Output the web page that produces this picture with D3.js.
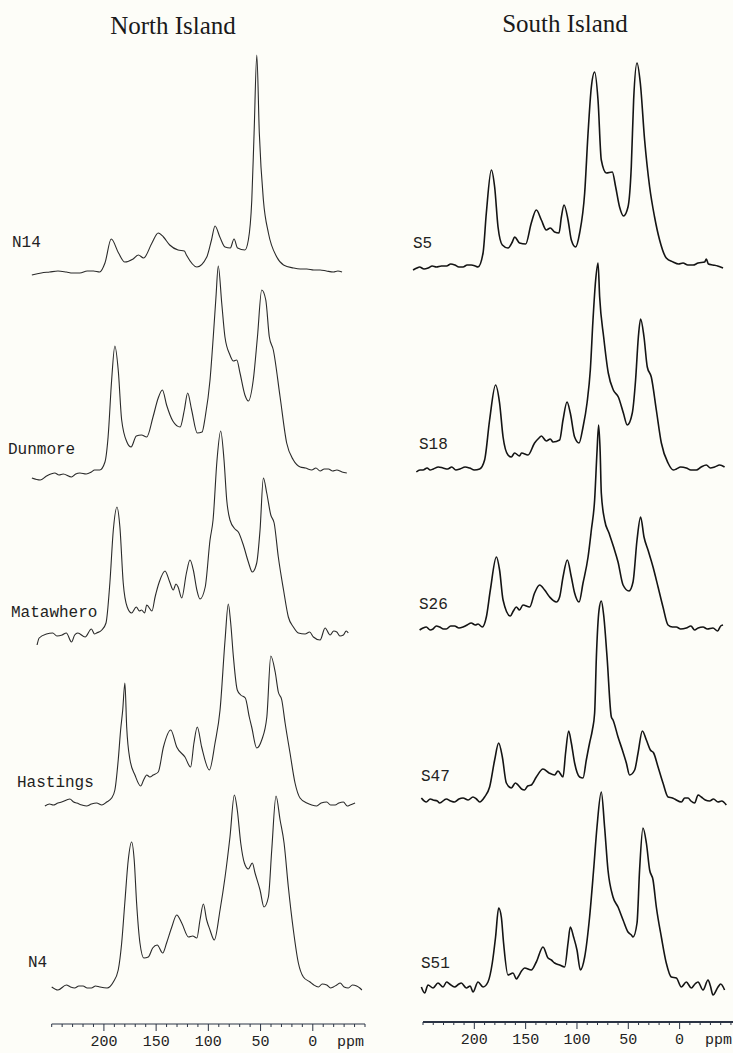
<!DOCTYPE html>
<html>
<head>
<meta charset="utf-8">
<script src="https://cdn.jsdelivr.net/npm/d3@7"></script>
<style>
body { margin: 0; background: #fdfdf8; }
svg { display: block; }
</style>
</head>
<body>
<div id="chart"></div>
<script>
// 13C NMR spectra, [ppm, intensity]
var northNames = ["N14", "Dunmore", "Matawhero", "Hastings", "N4"];
var southNames = ["S5", "S18", "S26", "S47", "S51"];
var tickValues = [200, 150, 100, 50, 0];

var N14 = [[269,-3],[260,-1],[252,0],[244,1],[236,0],[230,-1],[223,-1],[216,1],[210,1],[204,0],[199,9],[193,33],[186,19],[180,10],[172,13],[167,17],[162,14],[154,29],[148,39],[143,35],[137,27],[129,22],[123,21],[121,17],[111,5],[101.5,15],[97,32],[93.6,46],[89,35],[84,25],[79,24],[75.4,33],[72,24],[65,22],[61.7,32],[58.4,72],[56.2,139],[53.6,217],[51.2,139],[47.3,72],[42.5,39],[34.5,15],[28,7],[18.6,4],[12,3],[5.7,3],[-1,2],[-7,2],[-13,1],[-19.7,0],[-24,1],[-28,0]];

var dunmore = [[269,-7],[261,-9],[255,-5],[247,-2],[243,-4],[239,-3],[231,-6],[227,-3],[223,-2],[217,-3],[212,-1],[209,1],[204,1],[199,9],[196,34],[192.6,91],[189.5,125],[186.3,101],[183,51],[178,29],[174,24],[169,35],[164,36],[159,34],[153,54],[148,73],[144,81],[140,66],[134,50],[127,44],[123,61],[119.8,78],[116,61],[110.6,38],[106,39],[103,54],[98.4,91],[95.3,134],[92.7,174],[90.5,205],[87.2,168],[84.1,134],[79.3,116],[76,110],[72.8,111],[69.7,98],[65,76],[61.7,70],[57,91],[53,134],[48.9,181],[45,171],[41.6,134],[37.8,121],[31.3,74],[25,28],[18.6,11],[12,4],[7,3],[1,1],[-3,3],[-7,0],[-11,2],[-15,2],[-19,0],[-23,1],[-28,-1],[-32.6,-2]];

var matawhero = [[264,-12],[262,-5],[255,-1],[249,0],[245,-3],[240,-2],[236,0],[231,-9],[228,-2],[225,0],[218,-4],[212,4],[209,-1],[207,0],[202,3],[198,10],[194.3,50],[191,103],[187.5,126],[184.7,106],[181.5,50],[177.7,26],[173.5,20],[169,26],[166,22],[164,23],[161,20],[159,28],[154,22],[151,36],[147,51],[141.5,62],[137,51],[133.6,43],[131,49],[129,46],[125.5,35],[121,60],[117.6,73],[114.4,63],[111,43],[108,34],[103,46],[98.4,93],[95.5,113],[91.7,173],[88.2,202],[85,173],[82.4,133],[79.3,113],[74.5,104],[71.3,101],[66.5,88],[61.7,71],[57.9,61],[53.7,70],[50.5,103],[47.3,155],[44.1,140],[40.2,118],[37,110],[33,76],[28,43],[23.4,16],[18.6,6],[13.8,0],[7.4,-1],[3,1],[-0.6,-4],[-7,-7],[-11.8,5],[-16.6,-2],[-20,2],[-23,1],[-26,-3],[-29.3,-2],[-32,2],[-34,0]];

var hastings = [[256.5,-2],[252,0],[248.6,-1],[244,1],[240.5,2],[232.6,5],[229,2],[226,1],[221,-1],[216.6,-2],[212,0],[207,1],[202,-1],[197.4,2],[192.6,6],[189.5,14],[186.3,44],[184,74],[182,94],[179.9,121],[178.2,77],[175,44],[170.3,29],[164.8,18],[162,24],[159,29],[156,27],[152.8,29],[148,32],[143,57],[136,74],[130.3,57],[122.4,47],[117,37],[113.8,61],[110.6,77],[106.4,57],[99,34],[93.6,61],[88.8,94],[84,164],[80.9,200],[78.6,181],[76,147],[72.3,114],[69,109],[64.6,106],[60.8,87],[58.5,77],[53.7,56],[48.9,64],[44,87],[40.2,148],[36,132],[33,112],[29.7,104],[26.5,81],[21.8,51],[17,21],[12.2,6],[5.7,1],[1,-1],[-3.8,-2],[-8,1],[-13.4,2],[-17,-1],[-21.4,-1],[-25,1],[-29.3,2],[-33,-2],[-35.7,-1],[-40.5,1]];

var N4 = [[250,0],[244,-3],[236,2],[232,0],[228,-1],[224,1],[220,1],[216,-1],[212,-1],[208,1],[204,0],[197,-1],[191,5],[186.3,17],[183,44],[180,84],[176.7,127],[173.5,145],[171,127],[168.7,84],[165.5,44],[161.7,29],[157.5,30],[153.3,39],[149,42],[143.7,34],[140,44],[135,60],[130.3,72],[125.5,64],[119,50],[115,51],[111,49],[108,67],[104.8,83],[101.6,67],[98.4,57],[94.3,47],[88.8,77],[84,110],[79.3,150],[75.1,192],[72.3,177],[69,144],[65.5,124],[61.7,118],[57.9,124],[55.3,114],[50.5,97],[46.7,80],[42.5,90],[39.3,137],[35.2,191],[31.3,167],[27.5,144],[23.4,100],[18.6,57],[13.8,24],[9,10],[2.6,5],[-1,2],[-5.4,0],[-9,3],[-13.4,2],[-17,-1],[-19.7,0],[-23,2],[-26.2,4],[-30,0],[-34,-1],[-38,2],[-42,1],[-45,-1],[-47,-3]];

var S5 = [[259.7,-4],[256,-2],[253.3,-1],[249,-3],[245,-2],[241,0],[237,-1],[232,0],[227,0],[223,2],[219,1],[215,-1],[211,-1],[207,1],[203,1],[199,0],[196.4,-1],[191.5,13],[188.3,53],[183.4,96],[180.2,79],[176.9,39],[172.7,21],[167.2,18],[163,24],[160.7,29],[155.9,23],[150,22],[144.5,43],[139.6,56],[134.7,46],[129.9,36],[126,38],[121.8,34],[117.5,33],[115.2,49],[112.6,61],[108.7,46],[105.5,26],[101.3,19],[97.4,33],[92.5,73],[89.2,133],[86,179],[82.8,194],[79.5,166],[76.3,106],[71.4,93],[65.6,94],[62.3,79],[58.5,59],[54.6,50],[50.3,59],[47.1,99],[44.8,166],[41.5,203],[38.3,183],[34.1,126],[29.2,79],[24.4,49],[19.5,26],[13,8],[6.4,4],[1,2],[-3.3,3],[-8,1],[-13.1,1],[-18,3],[-24.4,4],[-26,7],[-28,2],[-32.5,1],[-37,0],[-42.3,-2]];

var S18 = [[256.5,-3],[253,-1],[250,-1],[246,1],[243,-1],[240,0],[235,2],[230.5,1],[226,0],[222,2],[218,-1],[214,0],[209,2],[204.6,1],[200,-1],[194.8,0],[190,9],[185.1,49],[179.3,84],[175.4,66],[172,32],[167.2,14],[164,12],[160.7,16],[156,13],[154,16],[147.7,14],[141.3,26],[137,31],[134.7,33],[129.9,28],[126,30],[123.3,27],[116.9,29],[113.6,49],[109.7,67],[106.5,56],[102.3,32],[98,26],[94.1,42],[90.2,66],[87,99],[84.4,149],[81.8,189],[79.5,206],[77.9,172],[74,132],[69.5,96],[64.6,79],[59.7,72],[54.8,56],[51,44],[46.1,56],[42.9,89],[40.2,132],[38,150],[34.7,132],[31.5,102],[27.6,92],[22.7,59],[17.8,26],[11.3,6],[6,-1],[3.2,0],[-1,2],[-6.5,1],[-11,-1],[-16.3,-1],[-21,2],[-26,4],[-30,1],[-34.1,2],[-39,4],[-43.8,2]];

var S26 = [[253.3,-3],[250,-1],[246.8,0],[243,-3],[240.2,-2],[237,1],[233.8,0],[230,-2],[227.3,-2],[223,1],[219.2,1],[215,-1],[211,0],[207,2],[203,4],[199,2],[196.4,3],[192.2,0],[188.3,10],[184.4,37],[178.5,70],[175.4,57],[172,27],[164.9,11],[162,16],[159.1,20],[156,17],[152.6,22],[146.1,20],[141.3,34],[136.4,42],[131.5,37],[126.6,30],[120.1,25],[116.9,30],[113.6,50],[109.4,67],[105.5,50],[102.3,34],[98,25],[94.1,44],[89.2,70],[86,97],[82.8,127],[80.5,175],[78.9,202],[77.4,175],[76.3,134],[73.1,107],[68.8,94],[64.3,80],[60,65],[55.1,42],[49.3,36],[45.4,45],[41.5,87],[38,110],[34.7,90],[30.8,77],[25.9,60],[21,40],[16.2,20],[11.3,2],[7,0],[3.2,0],[-1,-2],[-6.5,-1],[-11,1],[-14.6,-3],[-18,-1],[-22.8,0],[-27,-2],[-32.5,-1],[-37,-4],[-40,1],[-42.3,2]];

var S47 = [[251.6,2],[246.8,-2],[243,1],[240.2,0],[236,-1],[233.8,-3],[227.3,1],[223,-1],[219.2,-2],[215,1],[211,2],[206,0],[201.3,3],[198,1],[194.8,-2],[190,3],[185.1,13],[180.2,40],[176.3,57],[172.7,43],[168.8,17],[164,12],[160,17],[157.4,15],[154,11],[151,10],[148,14],[144.5,15],[139.6,23],[133.1,31],[127.2,27],[121.8,25],[118.5,29],[113.6,23],[111.1,47],[108.1,69],[105.5,57],[102.3,37],[97.4,23],[94.1,22],[90.9,40],[87.7,57],[85,70],[82.8,87],[81.1,143],[78.5,190],[76.3,199],[74,185],[70.7,143],[66.5,83],[64.9,80],[60,63],[55.8,50],[51.9,37],[48.7,25],[43.8,30],[40.5,47],[36.3,69],[32.4,60],[28.5,50],[25.3,47],[21,33],[16.2,17],[11.3,3],[7,2],[4.9,1],[-1.7,-2],[-5,2],[-8.2,2],[-11,-1],[-14.6,-3],[-18,5],[-21.1,3],[-25,0],[-29.2,-1],[-33,1],[-37.4,-2],[-41,-1],[-45.5,-5]];

var S51 = [[251.6,-2],[248.4,-8],[245.1,0],[240.2,-3],[235.4,2],[230.5,-2],[227,3],[224.1,1],[219.2,-2],[215,1],[212.7,2],[207.8,-3],[204,-1],[201.3,-7],[196.4,3],[191.5,-2],[186.7,3],[182.5,22],[179.3,48],[176.3,77],[173.7,68],[171.5,42],[167.2,10],[162.3,12],[159,6],[157.4,8],[154,14],[151,17],[144.5,15],[139.6,23],[133.1,38],[128.2,27],[125,25],[121.8,22],[116.9,20],[112,18],[108.7,42],[106.5,58],[103.3,48],[100,35],[96.7,15],[92.5,28],[87.7,68],[83.8,115],[80.5,158],[76.3,193],[73.1,158],[69.8,115],[64.9,88],[60,78],[55.1,65],[50.3,53],[47,50],[45.4,48],[41.5,62],[39,115],[35.7,157],[32.4,142],[29.2,115],[25.9,105],[22.7,78],[17.8,48],[13,22],[8.1,8],[3.2,7],[-1.7,-2],[-6.5,3],[-11.4,-3],[-15,1],[-17.9,3],[-22.8,-5],[-27.7,5],[-30,-1],[-32.5,-10],[-37.4,-2],[-40,1],[-43.8,-5]];

var northSpectra = [N14, dunmore, matawhero, hastings, N4];
var southSpectra = [S5, S18, S26, S47, S51];

var W = 733, H = 1053;

var svg = d3.select("#chart").append("svg")
    .attr("width", W)
    .attr("height", H);

svg.append("rect")
    .attr("width", W)
    .attr("height", H)
    .attr("fill", "#fdfdf8");

// layout of the two panels
var panels = [
    {
        title: "North Island", titleX: 173, titleY: 34,
        names: northNames, spectra: northSpectra,
        baselines: [272, 471, 633, 804, 987],
        labelX: [12, 8, 11, 17, 28],
        labelY: [247, 454, 617, 787, 967],
        range: [51.7, 365], domain: [250, -50],
        axisY: 1024, axisWidth: 1.2, lineWidth: 1.1, lineColor: "#2a2a2a"
    },
    {
        title: "South Island", titleX: 565, titleY: 32,
        names: southNames, spectra: southSpectra,
        baselines: [266, 469, 627, 800, 985],
        labelX: [413, 419, 419, 421, 421],
        labelY: [248, 449, 609, 781, 968],
        range: [423, 733], domain: [250, -52],
        axisY: 1022, axisWidth: 2, lineWidth: 1.6, lineColor: "#141414"
    }
];

panels.forEach(function(p) {
    var x = d3.scaleLinear()
        .domain(p.domain)
        .range(p.range);

    // intensity units are drawn 1:1 in pixels above each baseline
    var y = d3.scaleLinear()
        .domain([0, 100])
        .range([0, -100]);

    var line = d3.line()
        .x(function(d) { return x(d[0]); })
        .y(function(d) { return y(d[1]); })
        .curve(d3.curveMonotoneX);

    svg.append("text")
        .attr("x", p.titleX)
        .attr("y", p.titleY)
        .attr("text-anchor", "middle")
        .style("font-family", "'Liberation Serif', 'Times New Roman', serif")
        .style("font-size", "25px")
        .style("fill", "#1a1a1a")
        .text(p.title);

    p.spectra.forEach(function(s, i) {
        var g = svg.append("g")
            .attr("transform", "translate(0," + p.baselines[i] + ")");
        g.append("path")
            .datum(s)
            .attr("d", line)
            .attr("fill", "none")
            .attr("stroke", p.lineColor)
            .attr("stroke-width", p.lineWidth)
            .attr("stroke-linejoin", "round");

        svg.append("text")
            .attr("x", p.labelX[i])
            .attr("y", p.labelY[i])
            .style("font-family", "'Liberation Mono', 'Courier New', monospace")
            .style("font-size", "16px")
            .style("fill", "#222")
            .text(p.names[i]);
    });

    // ppm axis with 10 ppm minor ticks
    var ax = svg.append("g")
        .attr("transform", "translate(0," + p.axisY + ")");

    ax.append("line")
        .attr("x1", p.range[0])
        .attr("x2", p.range[1])
        .attr("stroke", "#2b3444")
        .attr("stroke-width", p.axisWidth);

    var minor = d3.range(250, -51, -10);
    ax.selectAll("line.tick")
        .data(minor)
        .enter().append("line")
        .attr("class", "tick")
        .attr("x1", function(d) { return x(d); })
        .attr("x2", function(d) { return x(d); })
        .attr("y1", 0)
        .attr("y2", function(d) { return tickValues.indexOf(d) >= 0 ? 7 : 3; })
        .attr("stroke", "#2b3444")
        .attr("stroke-width", 1);

    ax.selectAll("text.lbl")
        .data(tickValues)
        .enter().append("text")
        .attr("class", "lbl")
        .attr("x", function(d) { return x(d); })
        .attr("y", 22)
        .attr("text-anchor", "middle")
        .style("font-family", "'Liberation Mono', 'Courier New', monospace")
        .style("font-size", "15px")
        .style("fill", "#222")
        .text(function(d) { return d; });

    ax.append("text")
        .attr("x", p.range[1] - 1)
        .attr("y", 22)
        .attr("text-anchor", "end")
        .style("font-family", "'Liberation Mono', 'Courier New', monospace")
        .style("font-size", "15px")
        .style("fill", "#222")
        .text("ppm");
});
</script>
</body>
</html>
